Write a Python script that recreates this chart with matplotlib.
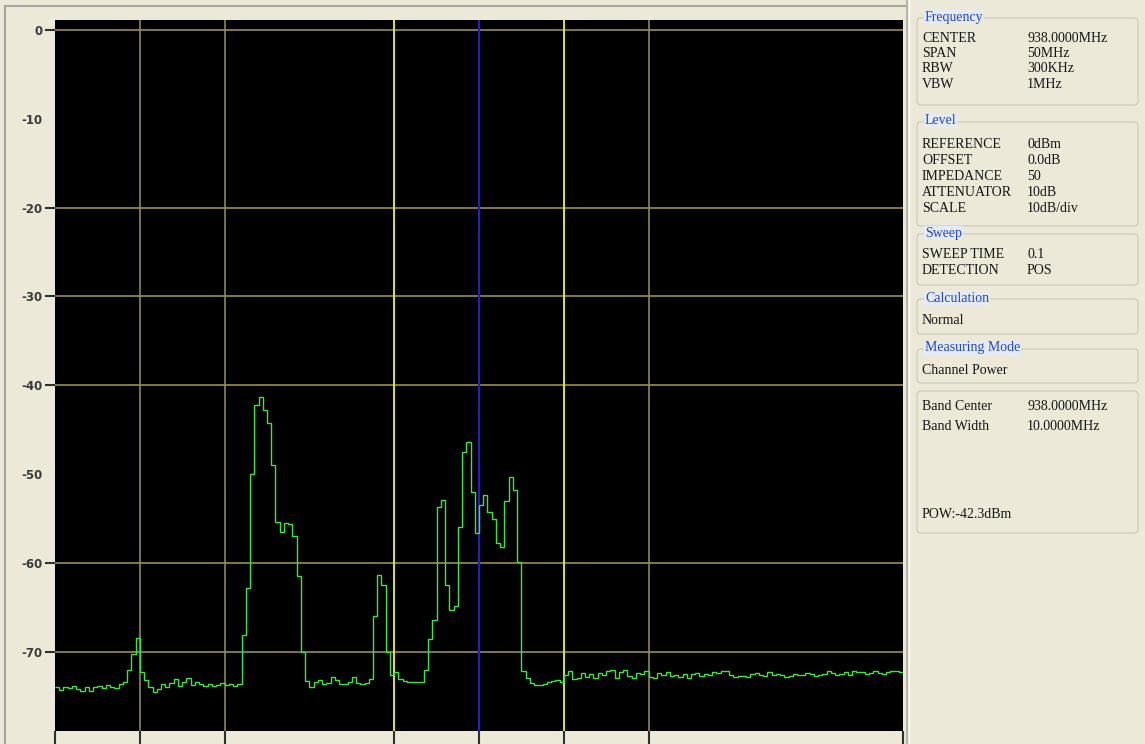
import numpy as np
import matplotlib
matplotlib.use('Agg')
import matplotlib.pyplot as plt
from matplotlib.patches import FancyBboxPatch

# sweep settings
f_start = 913.0   # MHz
f_stop = 963.0    # MHz
band_lo = 933.0
band_hi = 943.0
center = 938.0

# trace readings, dBm, one value per 0.25 MHz bin
trace = [
    -74.0, -74.3, -74.0, -74.1, -73.8, -74.2, -74.4, -73.9, -74.4, -74.0,
    -73.8, -74.1, -73.7, -73.9, -74.1, -73.6, -73.4, -72.0, -70.2, -68.4,
    -72.3, -73.2, -74.0, -74.5, -74.2, -73.6, -74.0, -73.5, -73.1, -73.8,
    -73.4, -72.9, -73.7, -73.4, -73.6, -73.8, -73.6, -73.8, -73.7, -73.5,
    -73.7, -73.6, -73.8, -73.6, -68.1, -62.8, -50.0, -42.2, -41.3, -42.8,
    -44.2, -49.0, -55.4, -56.5, -55.5, -55.6, -57.0, -61.5, -70.0, -73.3,
    -74.0, -73.4, -73.2, -73.6, -73.5, -72.8, -73.2, -73.6, -73.6, -73.4,
    -72.8, -73.5, -73.6, -73.5, -73.0, -66.0, -61.4, -62.5, -70.0, -72.6,
    -72.3, -73.0, -73.3, -73.4, -73.4, -73.4, -73.4, -72.0, -68.6, -66.4,
    -53.7, -52.9, -62.5, -65.3, -64.8, -56.0, -47.5, -46.4, -52.0, -56.6,
    -53.5, -52.3, -54.3, -55.1, -57.8, -58.2, -53.0, -50.3, -51.8, -59.9,
    -72.2, -72.9, -73.5, -73.7, -73.7, -73.6, -73.4, -73.3, -73.2, -73.4,
    -72.6, -72.1, -73.0, -72.9, -72.4, -72.8, -72.5, -72.9, -72.4, -72.6,
    -72.2, -72.0, -72.9, -72.3, -72.0, -72.7, -72.9, -72.4, -72.5, -72.1,
    -72.8, -72.9, -72.4, -72.6, -72.3, -72.7, -72.6, -72.8, -72.5, -72.9,
    -72.5, -72.4, -72.7, -72.5, -72.6, -72.3, -72.4, -72.1, -72.2, -72.6,
    -72.8, -72.7, -72.7, -72.8, -72.5, -72.4, -72.6, -72.7, -72.3, -72.6,
    -72.5, -72.6, -72.8, -72.7, -72.5, -72.6, -72.6, -72.4, -72.5, -72.7,
    -72.6, -72.5, -72.2, -72.4, -72.6, -72.5, -72.3, -72.6, -72.2, -72.3,
    -72.3, -72.5, -72.4, -72.2, -72.4, -72.5, -72.3, -72.2, -72.1, -72.3,
]

y_ticks = [0, -10, -20, -30, -40, -50, -60, -70]
y_labels = ['0', '-10', '-20', '-30', '-40', '-50', '-60', '-70']
y_grid = [0, -20, -30, -40, -60, -70]
x_grid = [918, 923, 933, 938, 943, 948]
x_ticks = [913, 918, 923, 933, 938, 943, 948, 963]

# side panel contents
freq_rows = [('CENTER', '938.0000MHz'), ('SPAN', '50MHz'), ('RBW', '300KHz'), ('VBW', '1MHz')]
level_rows = [('REFERENCE', '0dBm'), ('OFFSET', '0.0dB'), ('IMPEDANCE', '50'),
              ('ATTENUATOR', '10dB'), ('SCALE', '10dB/div')]
sweep_rows = [('SWEEP TIME', '0.1'), ('DETECTION', 'POS')]
calc_mode = 'Normal'
meas_mode = 'Channel Power'
band_rows = [('Band Center', '938.0000MHz'), ('Band Width', '10.0000MHz')]
pow_text = 'POW:-42.3dBm'

W, H = 1145, 744
beige = '#ece9d8'
fig = plt.figure(figsize=(W / 100, H / 100), dpi=100, facecolor=beige)

# background layer in pixel coordinates
bg = fig.add_axes([0, 0, 1, 1])
bg.set_xlim(0, W)
bg.set_ylim(H, 0)
bg.axis('off')
bg.plot([5, 5], [6, H], color='#a7a69c', lw=1.5)
bg.plot([5, 906], [6, 6], color='#a7a69c', lw=1.5)
bg.plot([907, 907], [0, H], color='#b8b6a6', lw=1.5)
bg.plot([909, 909], [0, H], color='#ffffff', lw=1.0)

serif = 'Liberation Serif'
title_col = '#2846c8'
txt_col = '#141414'
fs = 10


def group(y0, y1, title=None):
    box = FancyBboxPatch((917, y0), 221, y1 - y0, boxstyle='round,pad=0,rounding_size=4',
                         fc='none', ec='#d0cfbf', lw=1.0)
    bg.add_patch(box)
    if title:
        bg.text(925, y0 - 1, title, family=serif, fontsize=fs, color=title_col, va='center',
                ha='left', bbox=dict(fc='#e4ebf6', ec='none', pad=0.5))


def rows(items, y0, dy):
    for k, (name, val) in enumerate(items):
        y = y0 + k * dy
        bg.text(922, y, name, family=serif, fontsize=fs, color=txt_col, va='center')
        bg.text(1027, y, val, family=serif, fontsize=fs, color=txt_col, va='center')


group(18, 105, 'Frequency')
rows(freq_rows, 38, 15.5)
group(122, 226, 'Level')
rows(level_rows, 145, 16)
group(234, 285, 'Sweep')
rows(sweep_rows, 255, 15)
group(299, 334, 'Calculation')
bg.text(922, 320, calc_mode, family=serif, fontsize=fs, color=txt_col, va='center')
group(349, 383, 'Measuring Mode')
bg.text(922, 370, meas_mode, family=serif, fontsize=fs, color=txt_col, va='center')
group(391, 533)
rows(band_rows, 406, 21)
bg.text(922, 515, pow_text, family=serif, fontsize=fs, color=txt_col, va='center')

# spectrum display
ax = fig.add_axes([55 / W, 1 - 731 / H, (903 - 55) / W, (731 - 20) / H])
ax.set_facecolor('black')
ax.set_xlim(f_start, f_stop)
ax.set_ylim(-78.9, 1.1)
for s in ax.spines.values():
    s.set_visible(False)

for g in y_grid:
    ax.axhline(g, color='#a49a58', lw=1.1, zorder=1)
for g in x_grid:
    ax.axvline(g, color='#989064', lw=1.1, zorder=1)
ax.axvline(band_lo, color='#f2f032', lw=1.2, zorder=2)
ax.axvline(band_hi, color='#f2f032', lw=1.2, zorder=2)
ax.axvline(center, color='#1f1fd0', lw=1.6, zorder=2)

edges = np.linspace(f_start, f_stop, len(trace) + 1)
ax.stairs(trace, edges, baseline=None, color='#3fe23f', lw=1.0, zorder=3)

ax.set_yticks(y_ticks)
ax.set_yticklabels(y_labels, fontsize=8.5, fontweight='bold', color='#3a3a3a')
ax.tick_params(axis='y', direction='out', length=7, width=1.5, color='#303030', pad=2)
for t, v in zip(ax.yaxis.get_major_ticks(), y_ticks):
    if v not in y_grid:
        t.tick1line.set_visible(False)

ax.set_xticks(x_ticks)
ax.set_xticklabels([])
ax.tick_params(axis='x', direction='out', length=10, width=1.5, color='#303030')

fig.savefig('out.png', dpi=100, facecolor=beige)
